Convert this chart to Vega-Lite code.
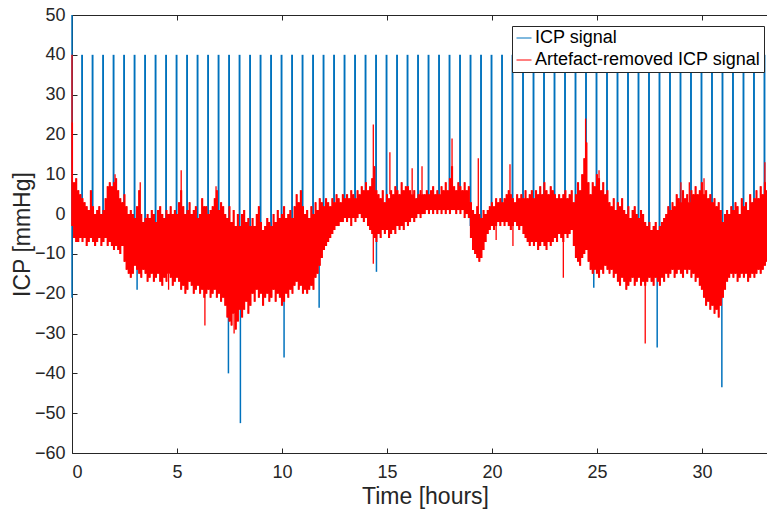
{
"$schema":"https://vega.github.io/schema/vega-lite/v6.json",
"width":695,"height":438,
"autosize":{"type":"none"},
"padding":{"left":72,"top":15,"right":0,"bottom":61},
"background":"white",
"config":{
 "view":{"stroke":"#262626","strokeWidth":1},
 "font":"Liberation Sans",
 "axis":{"labelFont":"Liberation Sans","labelFontSize":18,"labelColor":"#262626","tickColor":"#262626","domain":false,"grid":false,"titleFont":"Liberation Sans","titleFontSize":23,"titleFontWeight":"normal","titleColor":"#262626","tickSize":-5,"tickWidth":1},
 "legend":{"orient":"none","legendX":440,"legendY":11,"symbolType":"stroke","symbolSize":225,"symbolStrokeWidth":1,"labelFont":"Liberation Sans","labelFontSize":18,"labelColor":"#000000","labelLimit":400,"padding":3,"rowPadding":4,"strokeColor":"#262626","fillColor":"white","labelOffset":2}
},
"datasets":{
"blue":[
{"t":0.48,"lo":-3,"hi":40},{"t":0.98,"lo":-3,"hi":40},{"t":1.48,"lo":-3,"hi":40},{"t":1.98,"lo":-3,"hi":40},{"t":2.48,"lo":-5,"hi":40},{"t":2.98,"lo":-5,"hi":40},{"t":3.48,"lo":-5,"hi":40},{"t":3.98,"lo":-5,"hi":40},{"t":4.48,"lo":-5,"hi":40},{"t":4.98,"lo":-5,"hi":40},{"t":5.48,"lo":-5,"hi":40},{"t":5.98,"lo":-5,"hi":40},{"t":6.48,"lo":-5,"hi":40},{"t":6.98,"lo":-5,"hi":40},{"t":7.48,"lo":-5,"hi":40},{"t":7.98,"lo":-5,"hi":40},{"t":8.48,"lo":-5,"hi":40},{"t":8.98,"lo":-5,"hi":40},{"t":9.48,"lo":-5,"hi":40},{"t":9.98,"lo":-5,"hi":40},{"t":10.48,"lo":-5,"hi":40},{"t":10.98,"lo":-5,"hi":40},{"t":11.48,"lo":-5,"hi":40},{"t":11.98,"lo":-5,"hi":40},{"t":12.48,"lo":0,"hi":40},{"t":12.98,"lo":2,"hi":40},{"t":13.48,"lo":2,"hi":40},{"t":13.98,"lo":2,"hi":40},{"t":14.48,"lo":2,"hi":40},{"t":14.98,"lo":2,"hi":40},{"t":15.48,"lo":2,"hi":40},{"t":15.98,"lo":2,"hi":40},{"t":16.48,"lo":2,"hi":40},{"t":16.98,"lo":2,"hi":40},{"t":17.48,"lo":2,"hi":40},{"t":17.98,"lo":2,"hi":40},{"t":18.48,"lo":2,"hi":40},{"t":18.98,"lo":-3,"hi":40},{"t":19.48,"lo":-3,"hi":40},{"t":19.98,"lo":0,"hi":40},{"t":20.48,"lo":0,"hi":40},{"t":20.98,"lo":0,"hi":40},{"t":21.48,"lo":0,"hi":40},{"t":21.98,"lo":-2,"hi":40},{"t":22.48,"lo":-2,"hi":40},{"t":22.98,"lo":-2,"hi":40},{"t":23.48,"lo":-2,"hi":40},{"t":23.98,"lo":-5,"hi":40},{"t":24.48,"lo":-5,"hi":40},{"t":24.98,"lo":-5,"hi":40},{"t":25.48,"lo":-5,"hi":40},{"t":25.98,"lo":-5,"hi":40},{"t":26.48,"lo":-5,"hi":40},{"t":26.98,"lo":-5,"hi":40},{"t":27.48,"lo":-5,"hi":40},{"t":27.98,"lo":-5,"hi":40},{"t":28.48,"lo":-5,"hi":40},{"t":28.98,"lo":-5,"hi":40},{"t":29.48,"lo":-5,"hi":40},{"t":29.98,"lo":-5,"hi":40},{"t":30.48,"lo":-5,"hi":40},{"t":30.98,"lo":-5,"hi":40},{"t":31.48,"lo":-5,"hi":40},{"t":31.98,"lo":-5,"hi":40},{"t":32.48,"lo":-5,"hi":40},{"t":32.98,"lo":-5,"hi":40}
],
"bluedown":[
{"t":0.0,"lo":-21,"hi":50},{"t":3.1,"lo":-19,"hi":-12},{"t":7.45,"lo":-40,"hi":-20},{"t":8.02,"lo":-52.5,"hi":-20},{"t":10.1,"lo":-36,"hi":-18},{"t":11.77,"lo":-23.5,"hi":-12},{"t":14.5,"lo":-14.5,"hi":-5},{"t":24.85,"lo":-18.5,"hi":-10},{"t":27.87,"lo":-33.5,"hi":-15},{"t":30.95,"lo":-43.5,"hi":-20}
],
"band":[
{"t":0.0,"lo":-3,"hi":23},{"t":0.1,"lo":-6,"hi":8},{"t":0.2,"lo":-7,"hi":9},{"t":0.3,"lo":-7,"hi":6},{"t":0.4,"lo":-6,"hi":5},{"t":0.5,"lo":-7,"hi":4},{"t":0.6,"lo":-6,"hi":3},{"t":0.7,"lo":-8,"hi":2},{"t":0.8,"lo":-7,"hi":1},{"t":0.9,"lo":-6,"hi":6},
{"t":1.0,"lo":-7,"hi":2},{"t":1.1,"lo":-8,"hi":0},{"t":1.2,"lo":-7,"hi":1},{"t":1.3,"lo":-6,"hi":2},{"t":1.4,"lo":-8,"hi":0},{"t":1.5,"lo":-7,"hi":1},{"t":1.6,"lo":-6,"hi":4},{"t":1.7,"lo":-8,"hi":7},{"t":1.8,"lo":-7,"hi":8},{"t":1.9,"lo":-8,"hi":7},
{"t":2.0,"lo":-9,"hi":8},{"t":2.1,"lo":-8,"hi":9},{"t":2.2,"lo":-9,"hi":6},{"t":2.3,"lo":-10,"hi":4},{"t":2.4,"lo":-8,"hi":3},{"t":2.5,"lo":-12,"hi":5},{"t":2.6,"lo":-14,"hi":2},{"t":2.7,"lo":-15,"hi":0},{"t":2.8,"lo":-16,"hi":1},{"t":2.9,"lo":-15,"hi":0},
{"t":3.0,"lo":-13,"hi":-1},{"t":3.1,"lo":-14,"hi":2},{"t":3.2,"lo":-15,"hi":6},{"t":3.3,"lo":-16,"hi":0},{"t":3.4,"lo":-14,"hi":-2},{"t":3.5,"lo":-15,"hi":-1},{"t":3.6,"lo":-17,"hi":0},{"t":3.7,"lo":-16,"hi":-1},{"t":3.8,"lo":-15,"hi":1},{"t":3.9,"lo":-17,"hi":0},
{"t":4.0,"lo":-16,"hi":-2},{"t":4.1,"lo":-15,"hi":1},{"t":4.2,"lo":-17,"hi":2},{"t":4.3,"lo":-18,"hi":0},{"t":4.4,"lo":-16,"hi":-1},{"t":4.5,"lo":-17,"hi":1},{"t":4.6,"lo":-15,"hi":0},{"t":4.7,"lo":-16,"hi":2},{"t":4.8,"lo":-18,"hi":0},{"t":4.9,"lo":-17,"hi":1},
{"t":5.0,"lo":-16,"hi":0},{"t":5.1,"lo":-17,"hi":3},{"t":5.2,"lo":-19,"hi":6},{"t":5.3,"lo":-18,"hi":2},{"t":5.4,"lo":-20,"hi":0},{"t":5.5,"lo":-19,"hi":1},{"t":5.6,"lo":-17,"hi":3},{"t":5.7,"lo":-18,"hi":0},{"t":5.8,"lo":-20,"hi":1},{"t":5.9,"lo":-19,"hi":2},
{"t":6.0,"lo":-18,"hi":-1},{"t":6.1,"lo":-20,"hi":0},{"t":6.2,"lo":-19,"hi":4},{"t":6.3,"lo":-21,"hi":2},{"t":6.4,"lo":-20,"hi":2},{"t":6.5,"lo":-19,"hi":0},{"t":6.6,"lo":-21,"hi":1},{"t":6.7,"lo":-20,"hi":2},{"t":6.8,"lo":-19,"hi":4},{"t":6.9,"lo":-21,"hi":6},
{"t":7.0,"lo":-20,"hi":1},{"t":7.1,"lo":-22,"hi":3},{"t":7.2,"lo":-21,"hi":2},{"t":7.3,"lo":-23,"hi":0},{"t":7.4,"lo":-26,"hi":-1},{"t":7.5,"lo":-27,"hi":2},{"t":7.6,"lo":-28,"hi":-2},{"t":7.7,"lo":-25,"hi":1},{"t":7.8,"lo":-29,"hi":-3},{"t":7.9,"lo":-27,"hi":0},
{"t":8.0,"lo":-24,"hi":-3},{"t":8.1,"lo":-26,"hi":0},{"t":8.2,"lo":-24,"hi":1},{"t":8.3,"lo":-22,"hi":-2},{"t":8.4,"lo":-25,"hi":-1},{"t":8.5,"lo":-23,"hi":-3},{"t":8.6,"lo":-20,"hi":-1},{"t":8.7,"lo":-22,"hi":-3},{"t":8.8,"lo":-19,"hi":0},{"t":8.9,"lo":-21,"hi":2},
{"t":9.0,"lo":-20,"hi":-2},{"t":9.1,"lo":-23,"hi":-4},{"t":9.2,"lo":-21,"hi":-3},{"t":9.3,"lo":-20,"hi":-1},{"t":9.4,"lo":-22,"hi":-2},{"t":9.5,"lo":-21,"hi":-3},{"t":9.6,"lo":-19,"hi":0},{"t":9.7,"lo":-22,"hi":-2},{"t":9.8,"lo":-20,"hi":1},{"t":9.9,"lo":-21,"hi":-1},
{"t":10.0,"lo":-23,"hi":0},{"t":10.1,"lo":-22,"hi":2},{"t":10.2,"lo":-20,"hi":-1},{"t":10.3,"lo":-21,"hi":0},{"t":10.4,"lo":-19,"hi":1},{"t":10.5,"lo":-20,"hi":-1},{"t":10.6,"lo":-18,"hi":2},{"t":10.7,"lo":-17,"hi":5},{"t":10.8,"lo":-19,"hi":3},{"t":10.9,"lo":-18,"hi":6},
{"t":11.0,"lo":-20,"hi":2},{"t":11.1,"lo":-19,"hi":0},{"t":11.2,"lo":-20,"hi":1},{"t":11.3,"lo":-19,"hi":-1},{"t":11.4,"lo":-18,"hi":2},{"t":11.5,"lo":-19,"hi":0},{"t":11.6,"lo":-16,"hi":3},{"t":11.7,"lo":-15,"hi":1},{"t":11.8,"lo":-13,"hi":4},{"t":11.9,"lo":-11,"hi":3},
{"t":12.0,"lo":-9,"hi":2},{"t":12.1,"lo":-8,"hi":4},{"t":12.2,"lo":-7,"hi":3},{"t":12.3,"lo":-6,"hi":2},{"t":12.4,"lo":-5,"hi":4},{"t":12.5,"lo":-4,"hi":3},{"t":12.6,"lo":-3,"hi":5},{"t":12.7,"lo":-3,"hi":4},{"t":12.8,"lo":-2,"hi":3},{"t":12.9,"lo":-2,"hi":5},
{"t":13.0,"lo":-1,"hi":4},{"t":13.1,"lo":-2,"hi":5},{"t":13.2,"lo":-1,"hi":4},{"t":13.3,"lo":-3,"hi":6},{"t":13.4,"lo":-1,"hi":5},{"t":13.5,"lo":-2,"hi":4},{"t":13.6,"lo":-1,"hi":6},{"t":13.7,"lo":0,"hi":5},{"t":13.8,"lo":-1,"hi":7},{"t":13.9,"lo":-2,"hi":6},
{"t":14.0,"lo":-1,"hi":8},{"t":14.1,"lo":-3,"hi":6},{"t":14.2,"lo":-4,"hi":7},{"t":14.3,"lo":-5,"hi":9},{"t":14.4,"lo":-6,"hi":12},{"t":14.5,"lo":-7,"hi":6},{"t":14.6,"lo":-5,"hi":5},{"t":14.7,"lo":-6,"hi":4},{"t":14.8,"lo":-4,"hi":6},{"t":14.9,"lo":-5,"hi":3},
{"t":15.0,"lo":-4,"hi":5},{"t":15.1,"lo":-6,"hi":4},{"t":15.2,"lo":-5,"hi":6},{"t":15.3,"lo":-4,"hi":5},{"t":15.4,"lo":-5,"hi":7},{"t":15.5,"lo":-3,"hi":6},{"t":15.6,"lo":-4,"hi":5},{"t":15.7,"lo":-3,"hi":8},{"t":15.8,"lo":-4,"hi":6},{"t":15.9,"lo":-2,"hi":7},
{"t":16.0,"lo":-3,"hi":7},{"t":16.1,"lo":-2,"hi":6},{"t":16.2,"lo":-1,"hi":5},{"t":16.3,"lo":-2,"hi":6},{"t":16.4,"lo":-1,"hi":4},{"t":16.5,"lo":0,"hi":5},{"t":16.6,"lo":-1,"hi":6},{"t":16.7,"lo":0,"hi":5},{"t":16.8,"lo":0,"hi":5},{"t":16.9,"lo":1,"hi":6},
{"t":17.0,"lo":0,"hi":5},{"t":17.1,"lo":1,"hi":6},{"t":17.2,"lo":0,"hi":7},{"t":17.3,"lo":1,"hi":5},{"t":17.4,"lo":0,"hi":6},{"t":17.5,"lo":1,"hi":5},{"t":17.6,"lo":0,"hi":7},{"t":17.7,"lo":1,"hi":6},{"t":17.8,"lo":0,"hi":8},{"t":17.9,"lo":1,"hi":6},
{"t":18.0,"lo":0,"hi":9},{"t":18.1,"lo":1,"hi":12},{"t":18.2,"lo":1,"hi":7},{"t":18.3,"lo":0,"hi":6},{"t":18.4,"lo":1,"hi":8},{"t":18.5,"lo":0,"hi":7},{"t":18.6,"lo":1,"hi":6},{"t":18.7,"lo":-1,"hi":8},{"t":18.8,"lo":0,"hi":6},{"t":18.9,"lo":-1,"hi":7},
{"t":19.0,"lo":-6,"hi":3},{"t":19.1,"lo":-9,"hi":1},{"t":19.2,"lo":-10,"hi":0},{"t":19.3,"lo":-11,"hi":2},{"t":19.4,"lo":-12,"hi":0},{"t":19.5,"lo":-11,"hi":-1},{"t":19.6,"lo":-9,"hi":1},{"t":19.7,"lo":-7,"hi":0},{"t":19.8,"lo":-5,"hi":1},{"t":19.9,"lo":-4,"hi":2},
{"t":20.0,"lo":-3,"hi":3},{"t":20.1,"lo":-4,"hi":2},{"t":20.2,"lo":-3,"hi":4},{"t":20.3,"lo":-2,"hi":3},{"t":20.4,"lo":-3,"hi":4},{"t":20.5,"lo":-2,"hi":3},{"t":20.6,"lo":-3,"hi":4},{"t":20.7,"lo":-2,"hi":5},{"t":20.8,"lo":-3,"hi":6},{"t":20.9,"lo":-4,"hi":5},
{"t":21.0,"lo":-3,"hi":4},{"t":21.1,"lo":-2,"hi":3},{"t":21.2,"lo":-3,"hi":5},{"t":21.3,"lo":-4,"hi":4},{"t":21.4,"lo":-3,"hi":5},{"t":21.5,"lo":-5,"hi":4},{"t":21.6,"lo":-6,"hi":6},{"t":21.7,"lo":-7,"hi":4},{"t":21.8,"lo":-8,"hi":5},{"t":21.9,"lo":-7,"hi":6},
{"t":22.0,"lo":-8,"hi":4},{"t":22.1,"lo":-7,"hi":6},{"t":22.2,"lo":-9,"hi":5},{"t":22.3,"lo":-8,"hi":7},{"t":22.4,"lo":-7,"hi":5},{"t":22.5,"lo":-8,"hi":8},{"t":22.6,"lo":-9,"hi":6},{"t":22.7,"lo":-7,"hi":5},{"t":22.8,"lo":-8,"hi":7},{"t":22.9,"lo":-7,"hi":6},
{"t":23.0,"lo":-6,"hi":5},{"t":23.1,"lo":-7,"hi":4},{"t":23.2,"lo":-5,"hi":5},{"t":23.3,"lo":-6,"hi":4},{"t":23.4,"lo":-7,"hi":5},{"t":23.5,"lo":-5,"hi":6},{"t":23.6,"lo":-6,"hi":4},{"t":23.7,"lo":-5,"hi":5},{"t":23.8,"lo":-4,"hi":6},{"t":23.9,"lo":-8,"hi":3},
{"t":24.0,"lo":-11,"hi":5},{"t":24.1,"lo":-12,"hi":8},{"t":24.2,"lo":-13,"hi":6},{"t":24.3,"lo":-11,"hi":10},{"t":24.4,"lo":-10,"hi":14},{"t":24.5,"lo":-9,"hi":18},{"t":24.6,"lo":-12,"hi":8},{"t":24.7,"lo":-14,"hi":5},{"t":24.8,"lo":-15,"hi":8},{"t":24.9,"lo":-14,"hi":7},
{"t":25.0,"lo":-15,"hi":10},{"t":25.1,"lo":-16,"hi":9},{"t":25.2,"lo":-14,"hi":6},{"t":25.3,"lo":-15,"hi":8},{"t":25.4,"lo":-13,"hi":5},{"t":25.5,"lo":-14,"hi":6},{"t":25.6,"lo":-15,"hi":3},{"t":25.7,"lo":-14,"hi":2},{"t":25.8,"lo":-16,"hi":4},{"t":25.9,"lo":-15,"hi":1},
{"t":26.0,"lo":-17,"hi":3},{"t":26.1,"lo":-18,"hi":2},{"t":26.2,"lo":-16,"hi":4},{"t":26.3,"lo":-17,"hi":1},{"t":26.4,"lo":-19,"hi":0},{"t":26.5,"lo":-18,"hi":2},{"t":26.6,"lo":-17,"hi":-1},{"t":26.7,"lo":-16,"hi":1},{"t":26.8,"lo":-18,"hi":2},{"t":26.9,"lo":-17,"hi":0},
{"t":27.0,"lo":-16,"hi":-1},{"t":27.1,"lo":-18,"hi":1},{"t":27.2,"lo":-17,"hi":0},{"t":27.3,"lo":-18,"hi":-2},{"t":27.4,"lo":-17,"hi":-3},{"t":27.5,"lo":-16,"hi":-2},{"t":27.6,"lo":-17,"hi":-4},{"t":27.7,"lo":-18,"hi":-3},{"t":27.8,"lo":-16,"hi":-2},{"t":27.9,"lo":-17,"hi":-4},
{"t":28.0,"lo":-18,"hi":-3},{"t":28.1,"lo":-16,"hi":-2},{"t":28.2,"lo":-17,"hi":-1},{"t":28.3,"lo":-15,"hi":0},{"t":28.4,"lo":-16,"hi":2},{"t":28.5,"lo":-15,"hi":1},{"t":28.6,"lo":-14,"hi":3},{"t":28.7,"lo":-16,"hi":2},{"t":28.8,"lo":-15,"hi":5},{"t":28.9,"lo":-14,"hi":4},
{"t":29.0,"lo":-15,"hi":3},{"t":29.1,"lo":-16,"hi":6},{"t":29.2,"lo":-14,"hi":4},{"t":29.3,"lo":-15,"hi":5},{"t":29.4,"lo":-14,"hi":3},{"t":29.5,"lo":-16,"hi":6},{"t":29.6,"lo":-15,"hi":5},{"t":29.7,"lo":-17,"hi":7},{"t":29.8,"lo":-16,"hi":5},{"t":29.9,"lo":-18,"hi":6},
{"t":30.0,"lo":-19,"hi":8},{"t":30.1,"lo":-21,"hi":5},{"t":30.2,"lo":-23,"hi":6},{"t":30.3,"lo":-22,"hi":4},{"t":30.4,"lo":-24,"hi":5},{"t":30.5,"lo":-23,"hi":3},{"t":30.6,"lo":-25,"hi":4},{"t":30.7,"lo":-24,"hi":2},{"t":30.8,"lo":-26,"hi":3},{"t":30.9,"lo":-23,"hi":1},
{"t":31.0,"lo":-21,"hi":-2},{"t":31.1,"lo":-19,"hi":0},{"t":31.2,"lo":-17,"hi":1},{"t":31.3,"lo":-16,"hi":0},{"t":31.4,"lo":-15,"hi":2},{"t":31.5,"lo":-16,"hi":1},{"t":31.6,"lo":-15,"hi":3},{"t":31.7,"lo":-17,"hi":2},{"t":31.8,"lo":-16,"hi":0},{"t":31.9,"lo":-15,"hi":4},
{"t":32.0,"lo":-16,"hi":2},{"t":32.1,"lo":-15,"hi":3},{"t":32.2,"lo":-17,"hi":1},{"t":32.3,"lo":-16,"hi":5},{"t":32.4,"lo":-15,"hi":3},{"t":32.5,"lo":-16,"hi":4},{"t":32.6,"lo":-15,"hi":6},{"t":32.7,"lo":-14,"hi":4},{"t":32.8,"lo":-15,"hi":7},{"t":32.9,"lo":-14,"hi":5},
{"t":33.0,"lo":-13,"hi":8},{"t":33.1,"lo":-12,"hi":6}
],
"redspikes":[
{"t":0.0,"lo":-3,"hi":40},{"t":2.05,"lo":5,"hi":10},{"t":3.25,"lo":-5,"hi":8},{"t":4.6,"lo":-19,"hi":-15},{"t":5.2,"lo":-5,"hi":11},{"t":6.33,"lo":-28,"hi":-18},{"t":6.86,"lo":0,"hi":7},{"t":7.72,"lo":-30,"hi":-25},{"t":14.35,"lo":-12.5,"hi":22.5},{"t":15.14,"lo":5,"hi":15.5},{"t":16.2,"lo":5,"hi":11.5},{"t":16.67,"lo":5,"hi":12},{"t":18.1,"lo":6,"hi":19},{"t":19.35,"lo":0,"hi":14},{"t":20.2,"lo":-6.5,"hi":-2},{"t":20.86,"lo":4,"hi":12.5},{"t":21.0,"lo":-8,"hi":-2},{"t":23.4,"lo":-16,"hi":-5},{"t":24.46,"lo":10,"hi":24},{"t":25.1,"lo":5,"hi":11},{"t":27.3,"lo":-32.5,"hi":-17},{"t":29.0,"lo":3,"hi":8},{"t":29.4,"lo":3,"hi":8},{"t":30.1,"lo":4,"hi":9},{"t":33.0,"lo":5,"hi":13}
]
},
"layer":[
{"data":{"name":"blue"},"mark":{"type":"rule","strokeWidth":1.9},
 "encoding":{
  "x":{"field":"t","type":"quantitative","scale":{"domain":[0,33.1],"nice":false,"zero":false},"axis":{"orient":"top","labels":false,"title":null,"values":[0,5,10,15,20,25,30]}},
  "y":{"field":"lo","type":"quantitative","scale":{"domain":[-60,50],"nice":false,"zero":false},"axis":{"values":[-60,-50,-40,-30,-20,-10,0,10,20,30,40,50],"title":"ICP [mmHg]","labelPadding":12,"titleX":-43,"titleY":219,"titleBaseline":"alphabetic","titleAlign":"center","titleAngle":-90}},
  "y2":{"field":"hi"},
  "color":{"datum":"ICP signal","scale":{"domain":["ICP signal","Artefact-removed ICP signal"],"range":["#0072BD","#FF0000"]},"legend":{"title":null}}
 }},
{"data":{"name":"bluedown"},"mark":{"type":"rule","strokeWidth":1.5},
 "encoding":{
  "x":{"field":"t","type":"quantitative","axis":null},
  "y":{"field":"lo","type":"quantitative","axis":{"values":[-60,-50,-40,-30,-20,-10,0,10,20,30,40,50],"title":"ICP [mmHg]","labelPadding":12,"titleX":-43,"titleY":219,"titleBaseline":"alphabetic","titleAlign":"center","titleAngle":-90}},
  "y2":{"field":"hi"},
  "color":{"datum":"ICP signal"}
 }},
{"data":{"name":"band"},"mark":{"type":"area","interpolate":"step"},
 "encoding":{
  "x":{"field":"t","type":"quantitative","axis":{"orient":"bottom","values":[0,5,10,15,20,25,30],"title":"Time [hours]","labelPadding":15,"titleX":353,"titleY":50,"titleBaseline":"alphabetic","titleAlign":"center"}},
  "y":{"field":"lo","type":"quantitative","axis":{"values":[-60,-50,-40,-30,-20,-10,0,10,20,30,40,50],"title":"ICP [mmHg]","labelPadding":12,"titleX":-43,"titleY":219,"titleBaseline":"alphabetic","titleAlign":"center","titleAngle":-90}},
  "y2":{"field":"hi"},
  "color":{"datum":"Artefact-removed ICP signal"}
 }},
{"data":{"name":"band"},"mark":{"type":"rule","strokeWidth":1},
 "encoding":{
  "x":{"field":"t","type":"quantitative","axis":null},
  "y":{"field":"lo","type":"quantitative","axis":{"values":[-60,-50,-40,-30,-20,-10,0,10,20,30,40,50],"title":"ICP [mmHg]","labelPadding":12,"titleX":-43,"titleY":219,"titleBaseline":"alphabetic","titleAlign":"center","titleAngle":-90}},
  "y2":{"field":"hi"},
  "color":{"datum":"Artefact-removed ICP signal"}
 }},
{"data":{"name":"redspikes"},"mark":{"type":"rule","strokeWidth":1.3},
 "encoding":{
  "x":{"field":"t","type":"quantitative","axis":null},
  "y":{"field":"lo","type":"quantitative","axis":{"values":[-60,-50,-40,-30,-20,-10,0,10,20,30,40,50],"title":"ICP [mmHg]","labelPadding":12,"titleX":-43,"titleY":219,"titleBaseline":"alphabetic","titleAlign":"center","titleAngle":-90}},
  "y2":{"field":"hi"},
  "color":{"datum":"Artefact-removed ICP signal"}
 }}
],
"resolve":{"axis":{"x":"independent"}}
}
